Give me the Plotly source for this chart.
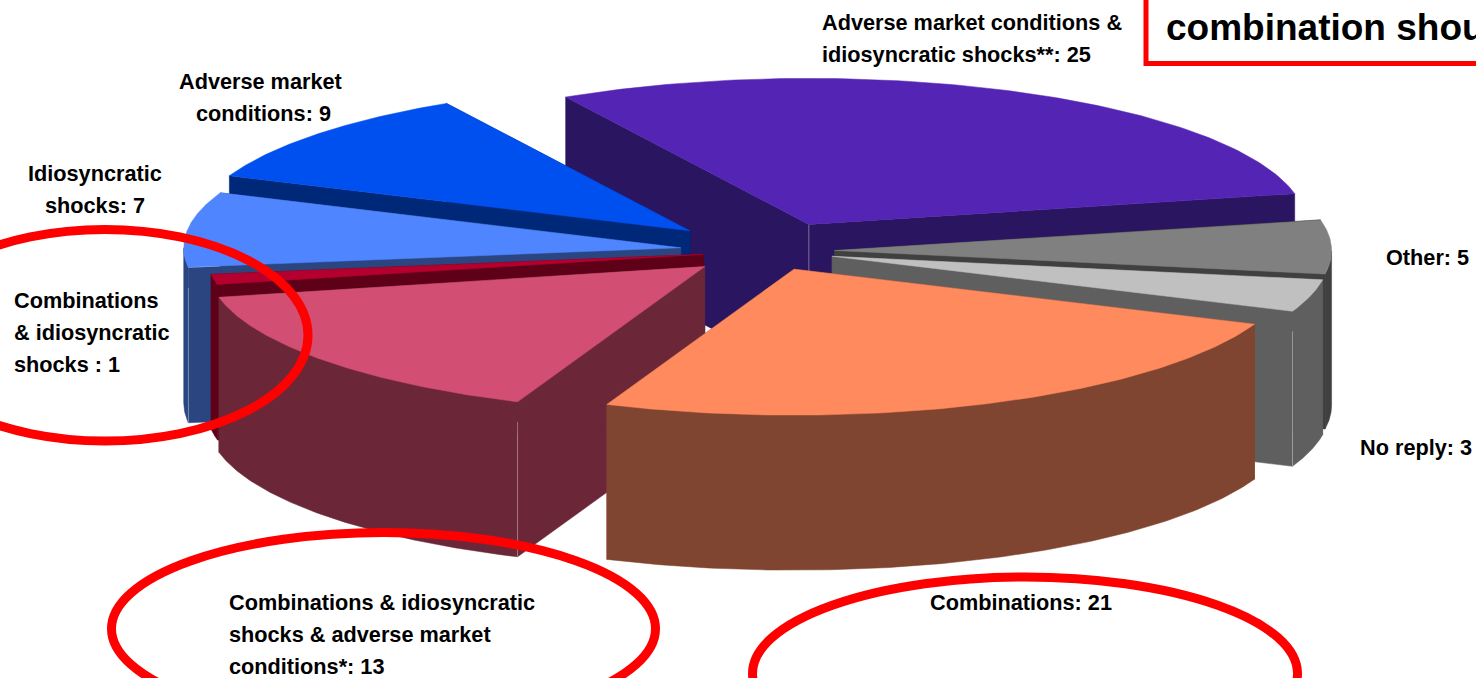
import numpy as np
import plotly.graph_objects as go

categories = ["Adverse market conditions & idiosyncratic shocks**", "Other", "No reply", "Combinations",
              "Combinations & idiosyncratic shocks & adverse market conditions*",
              "Combinations & idiosyncratic shocks", "Idiosyncratic shocks", "Adverse market conditions"]
values = [25, 5, 3, 21, 13, 1, 7, 9]
explode = [0.20, 0.134, 0.134, 0.135, 0.166, 0.132, 0.177, 0.21]
top_colors = ["#5424B4", "#808080", "#C0C0C0", "#FF8A5E", "#D24E72", "#B4002E", "#4F86FF", "#0050F0"]
wall_colors = ["#2A1560", "#404040", "#5F5F5F", "#804530", "#6B2738", "#5E0018", "#2A4580", "#002878"]
paint_order = [0, 7, 6, 5, 1, 2, 4, 3]

label_lines = [
    ("Adverse market conditions &", 822, 22, "left"),
    ("idiosyncratic shocks**: 25", 822, 54, "left"),
    ("Adverse market", 260, 81, "center"),
    ("conditions: 9", 263, 113, "center"),
    ("Idiosyncratic", 95, 173, "center"),
    ("shocks: 7", 95, 205, "center"),
    ("Combinations", 14, 300, "left"),
    ("& idiosyncratic", 14, 332, "left"),
    ("shocks : 1", 14, 364, "left"),
    ("Other: 5", 1386, 257, "left"),
    ("No reply: 3", 1360, 447, "left"),
    ("Combinations & idiosyncratic", 229, 602, "left"),
    ("shocks & adverse market", 229, 634, "left"),
    ("conditions*: 13", 229, 666, "left"),
    ("Combinations: 21", 1021, 602, "center"),
]
title_text = "combination shou"

CX, CY, RX, RY, DEPTH = 768, 251, 497, 146, 155
START = -29.3
SEAM = "rgba(255,255,255,0.35)"


def project(angle_deg, radius, ox, oy):
    a = np.radians(angle_deg)
    return ox + RX * radius * np.sin(a), oy - RY * radius * np.cos(a)


edges = START + np.concatenate([[0], np.cumsum(values)]) / sum(values) * 360
fig = go.Figure()


def poly(x, y, color, name, hover=None):
    fig.add_trace(go.Scatter(x=list(x), y=list(y), mode="lines", fill="toself", fillcolor=color,
                             line=dict(color=color, width=0.5), name=name, showlegend=False,
                             text=hover, hoverinfo="text" if hover else "skip"))


def seam(x, y0, y1):
    fig.add_trace(go.Scatter(x=[x, x], y=[y0, y1], mode="lines", line=dict(color=SEAM, width=1),
                             hoverinfo="skip", showlegend=False))


for i in paint_order:
    a0, a1 = edges[i], edges[i + 1]
    mid = (a0 + a1) / 2
    ox, oy = project(mid, explode[i], CX, CY)
    arc = np.linspace(a0, a1, 120)
    ax, ay = project(arc, 1.0, ox, oy)
    for ang in (a0, a1):
        ex, ey = project(ang, 1.0, ox, oy)
        poly([ox, ex, ex, ox, ox], [oy, ey, ey + DEPTH, oy + DEPTH, oy], wall_colors[i], categories[i])
    # outer wall: only the part of the rim that faces the viewer
    front = np.cos(np.radians(arc)) < 0
    if front.any():
        fx, fy = ax[front], ay[front]
        poly(list(fx) + list(fx[::-1]) + [fx[0]], list(fy) + list(fy[::-1] + DEPTH) + [fy[0]],
             wall_colors[i], categories[i])
        # light seam on the outer vertical edge that faces the viewer
        ang = a1 if np.sin(np.radians(mid)) > 0 else a0
        ex, ey = project(ang, 1.0, ox, oy)
        if i in (2, 4, 6):
            seam(ex, ey + 20, ey + DEPTH)
    if i == 0:
        seam(ox, oy, oy + DEPTH)
    poly([ox] + list(ax) + [ox], [oy] + list(ay) + [oy], top_colors[i], categories[i],
         f"{categories[i]}: {values[i]}")

RED = "#FF0000"
shapes = [
    dict(type="circle", x0=-98, x1=308, y0=229.5, y1=441, line=dict(color=RED, width=9), layer="above"),
    dict(type="circle", x0=111.5, x1=655.5, y0=532.5, y1=725, line=dict(color=RED, width=9), layer="above"),
    dict(type="circle", x0=752.5, x1=1297.5, y0=577, y1=770, line=dict(color=RED, width=9), layer="above"),
    dict(type="rect", x0=1146, x1=1490, y0=-10, y1=63.5, fillcolor="white", line=dict(color=RED, width=5), layer="above"),
]

annotations = [dict(x=x, y=y, text=f"<b>{t}</b>", showarrow=False, xanchor=anc, yanchor="middle", xref="x", yref="y",
                    borderpad=0, borderwidth=0,
                    font=dict(family="Liberation Sans", size=21.7, color="black"))
               for t, x, y, anc in label_lines]
annotations.append(dict(x=1166, y=27, text=f"<b>{title_text}</b>", showarrow=False, xanchor="left", yanchor="middle",
                        xref="x", yref="y", borderpad=0, borderwidth=0,
                        font=dict(family="Liberation Sans", size=37, color="black")))

fig.update_layout(
    width=1476, height=678, autosize=False, margin=dict(l=0, r=0, t=0, b=0),
    paper_bgcolor="white", plot_bgcolor="white", showlegend=False,
    xaxis=dict(range=[0, 1476], visible=False, fixedrange=True),
    yaxis=dict(range=[678, 0], visible=False, fixedrange=True),
    shapes=shapes, annotations=annotations,
)
fig.write_html("out.html", config={"displayModeBar": False},
               post_script="document.body.style.margin='0';document.documentElement.style.overflow='hidden';")
